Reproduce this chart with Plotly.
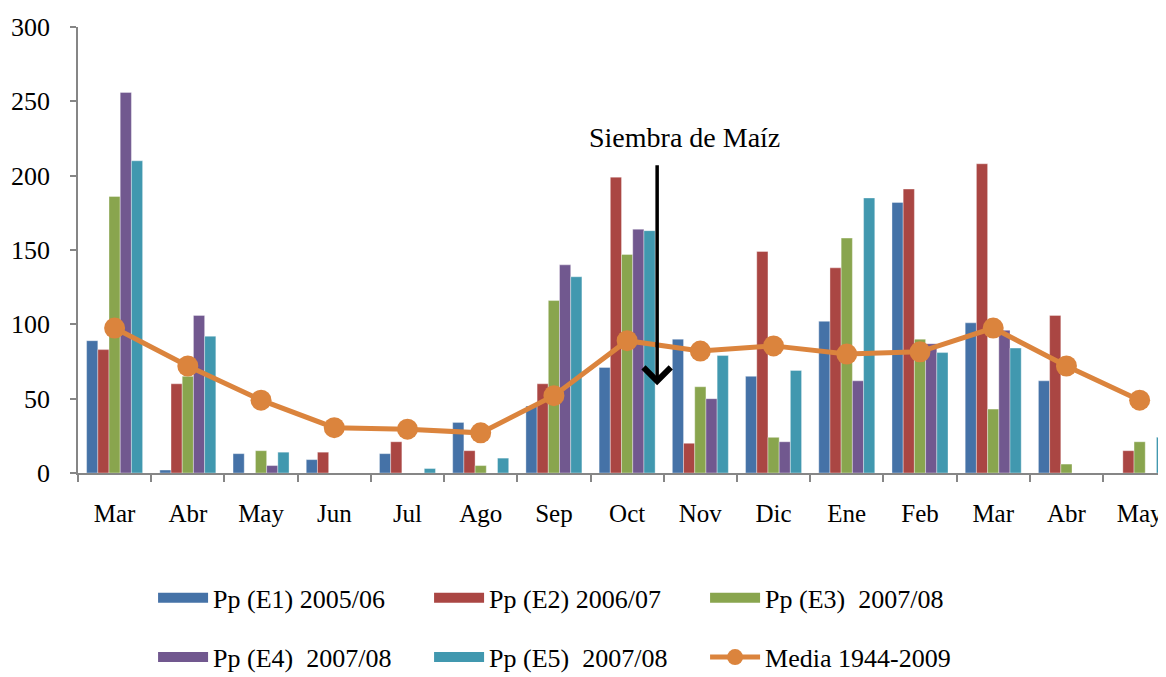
import plotly.graph_objects as go

months = ["Mar", "Abr", "May", "Jun", "Jul", "Ago", "Sep", "Oct", "Nov", "Dic",
          "Ene", "Feb", "Mar", "Abr", "May"]
x_pos = list(range(len(months)))

e1 = [89, 2, 13, 9, 13, 34, 45, 71, 90, 65, 102, 182, 101, 62, 0]
e2 = [83, 60, 0, 14, 21, 15, 60, 199, 20, 149, 138, 191, 208, 106, 15]
e3 = [186, 65, 15, 0, 0, 5, 116, 147, 58, 24, 158, 90, 43, 6, 21]
e4 = [256, 106, 5, 0, 0, 0, 140, 164, 50, 21, 62, 87, 96, 0, 0]
e5 = [210, 92, 14, 0, 3, 10, 132, 163, 79, 69, 185, 81, 84, 0, 24]
media = [97.5, 72, 49, 30.5, 29.5, 27, 52, 89, 82, 85.5, 80, 81.5, 97.5, 72, 49]

series_names = ["Pp (E1) 2005/06", "Pp (E2) 2006/07", "Pp (E3)  2007/08",
                "Pp (E4)  2007/08", "Pp (E5)  2007/08"]
series_values = [e1, e2, e3, e4, e5]
colors = ["#4572A7", "#AA4643", "#89A54E", "#71588F", "#4198AF"]
media_name = "Media 1944-2009"
media_color = "#DB843D"
legend_ids = ["legend", "legend", "legend", "legend2", "legend2"]

FONT = "Liberation Serif"

fig = go.Figure()

for name, vals, col, lg in zip(series_names, series_values, colors, legend_ids):
    fig.add_trace(go.Bar(
        x=x_pos, y=vals, name=name, marker_color=col,
        marker_line_width=0.6, marker_line_color="rgba(255,255,255,0.6)",
        showlegend=False, legendgroup=name,
    ))

fig.add_trace(go.Scatter(
    x=x_pos, y=media, name=media_name, mode="lines+markers",
    line=dict(color=media_color, width=5),
    marker=dict(color=media_color, size=21),
    showlegend=False, legendgroup=media_name,
))

# legend entries (wide swatches like the original)
for name, col, lg in zip(series_names, colors, legend_ids):
    fig.add_trace(go.Scatter(
        x=[None], y=[None], name=name, mode="lines",
        line=dict(color=col, width=10), legend=lg, legendgroup=name,
    ))
fig.add_trace(go.Scatter(
    x=[None], y=[None], name=media_name, mode="lines+markers",
    line=dict(color=media_color, width=5),
    marker=dict(color=media_color, size=16),
    legend="legend2", legendgroup=media_name,
))

fig.add_annotation(
    x=7.41, y=59, ax=7.41, ay=208, xref="x", yref="y", axref="x", ayref="y",
    showarrow=True, arrowhead=4, arrowsize=1.5, arrowwidth=3.5, arrowcolor="black",
    text="",
)
fig.add_annotation(
    x=7.78, y=226, xref="x", yref="y", text="Siembra de Maíz", showarrow=False,
    font=dict(family=FONT, size=28, color="black"),
)

legend_common = dict(
    orientation="h", xanchor="left", yanchor="middle",
    font=dict(family=FONT, size=26, color="black"),
    itemwidth=50, entrywidth=211, entrywidthmode="pixels",
    bgcolor="rgba(0,0,0,0)", traceorder="normal", itemclick="toggle",
)

# The page body has an 8px default margin, so the figure is sized to fill
# the 1166x677 window exactly from that offset.
fig.update_layout(
    width=1158, height=669,
    margin=dict(l=70, r=0, t=19, b=204, autoexpand=False),
    paper_bgcolor="white", plot_bgcolor="white",
    barmode="group", bargap=0.235, bargroupgap=0,
    font=dict(family=FONT, size=26, color="black"),
    legend=dict(x=0.069, y=-0.28, **legend_common),
    legend2=dict(x=0.069, y=-0.413, **legend_common),
    xaxis=dict(
        range=[-0.5, 14.36], tickmode="array", tickvals=x_pos, ticktext=months,
        ticks="", showgrid=False, zeroline=False,
        showline=True, linecolor="#868686", linewidth=1.5,
        tickfont=dict(family=FONT, size=25, color="black"),
        ticklabelstandoff=17,
        minor=dict(tick0=-0.5, dtick=1, ticks="outside", ticklen=7,
                   tickcolor="#868686", tickwidth=1.5, showgrid=False),
    ),
    yaxis=dict(
        range=[0, 300], tickvals=[0, 50, 100, 150, 200, 250, 300],
        ticks="outside", ticklen=6, tickcolor="#868686", tickwidth=1.5,
        showgrid=False, zeroline=False,
        showline=True, linecolor="#868686", linewidth=1.5,
        tickfont=dict(family=FONT, size=26, color="black"),
        ticklabelstandoff=15,
    ),
)

fig.write_html("out.html")
